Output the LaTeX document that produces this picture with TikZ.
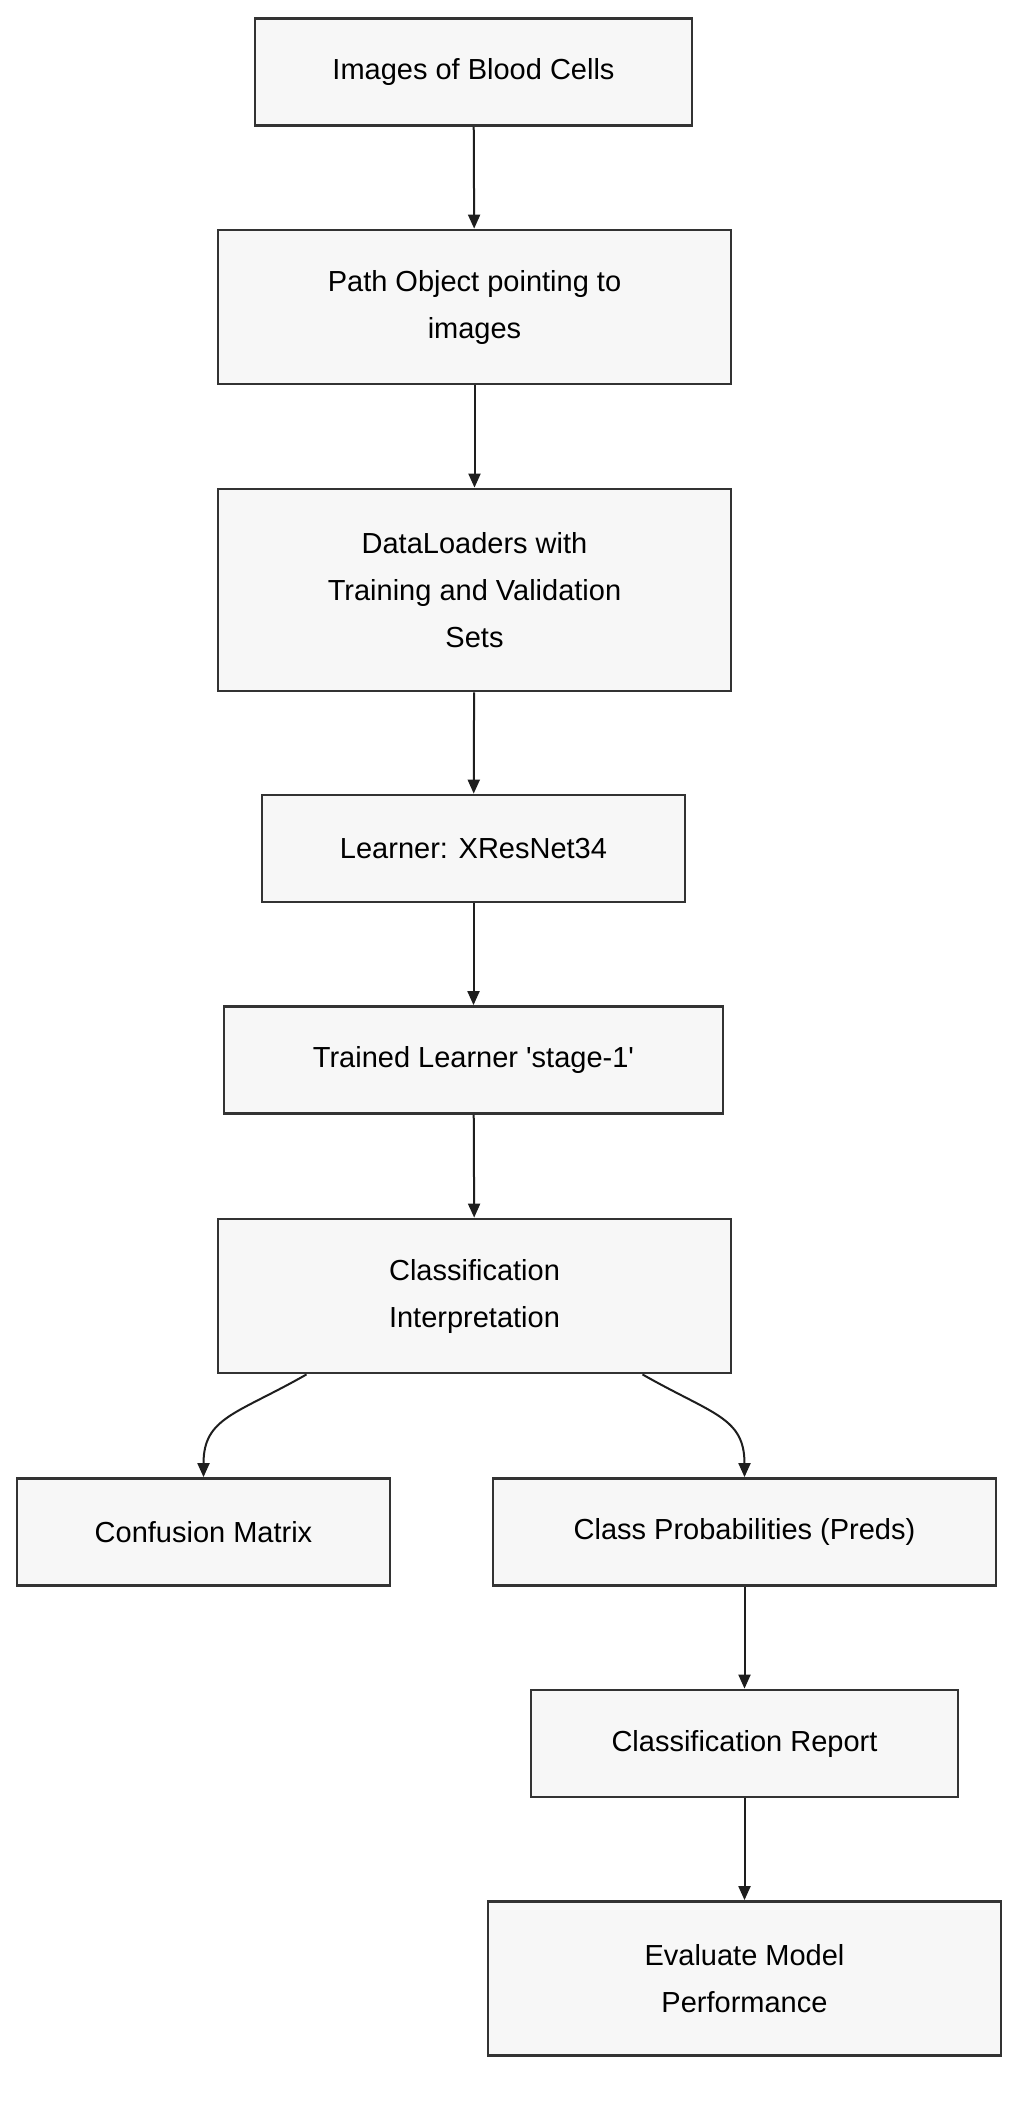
\documentclass[tikz,border=0pt]{standalone}
\usepackage{fontspec}
\setmainfont{Liberation Sans}
\usepackage{xcolor}
\usepackage{tikz}
\usetikzlibrary{arrows.meta,calc,positioning}
\definecolor{BoxFill}{HTML}{F7F7F7}
\definecolor{BoxLine}{HTML}{333333}
\definecolor{ArrowInk}{HTML}{1E1E1E}
\newcommand{\WideBox}{256.5pt}
\newcommand{\LowBox}{53.5pt}
\newcommand{\TallBox}{77pt}
\newcommand{\SplitGap}{84pt}

\begin{document}
\begin{tikzpicture}[x=.5pt,y=-.5pt,
 flowbox/.style={draw=BoxLine,line width=1.4pt,fill=BoxFill,align=center,inner sep=0pt,
  font=\fontsize{14.5}{23.5}\selectfont,text=black},
 flowarrow/.style={draw=ArrowInk,line width=1pt,-{Triangle[length=7pt,width=6pt]}}]
\useasboundingbox (0,0) rectangle (1036,2106);
\node[flowbox,minimum width=218.5pt,minimum height=\LowBox] (images) at (473.5,72) {Images of Blood Cells};
\node[flowbox,minimum width=\WideBox,minimum height=\TallBox] (path) at (474.5,307) {Path Object pointing to\\images};
\node[flowbox,minimum width=\WideBox,minimum height=101pt] (loaders) at (474.5,590) {DataLoaders with\\Training and Validation\\Sets};
\node[flowbox,minimum width=211.5pt,minimum height=\LowBox] (learner) at (473.5,848.5) {Learner: XResNet34};
\node[flowbox,minimum width=249.5pt,minimum height=\LowBox] (trained) at (473.5,1060) {Trained Learner \textquotesingle stage-1\textquotesingle};
\node[flowbox,minimum width=\WideBox,minimum height=\TallBox] (interp) at (474.5,1296) {Classification\\Interpretation};
\node[flowbox,minimum width=186.5pt,minimum height=\LowBox] (confusion) at (203.5,1532) {Confusion Matrix};
\node[flowbox,minimum width=251.5pt,minimum height=\LowBox] (probs) at (744.5,1532) {Class Probabilities (Preds)};
\node[flowbox,minimum width=213.5pt,minimum height=\LowBox] (report) at (744.5,1743.5) {Classification Report};
\node[flowbox,minimum width=\WideBox,minimum height=\TallBox] (evaluate) at (744.5,1978.5) {Evaluate Model\\Performance};

\draw[flowarrow] (images) -- (path);
\draw[flowarrow] (path) -- (loaders);
\draw[flowarrow] (loaders) -- (learner);
\draw[flowarrow] (learner) -- (trained);
\draw[flowarrow] (trained) -- (interp);
\draw[flowarrow] ([xshift=-\SplitGap]interp.south) .. controls ($([xshift=-\SplitGap]interp.south)+(-70,40)$) and ($(confusion.north)+(0,-60)$) .. (confusion.north);
\draw[flowarrow] ([xshift=\SplitGap]interp.south) .. controls ($([xshift=\SplitGap]interp.south)+(70,40)$) and ($(probs.north)+(0,-60)$) .. (probs.north);
\draw[flowarrow] (probs) -- (report);
\draw[flowarrow] (report) -- (evaluate);
\end{tikzpicture}
\end{document}
